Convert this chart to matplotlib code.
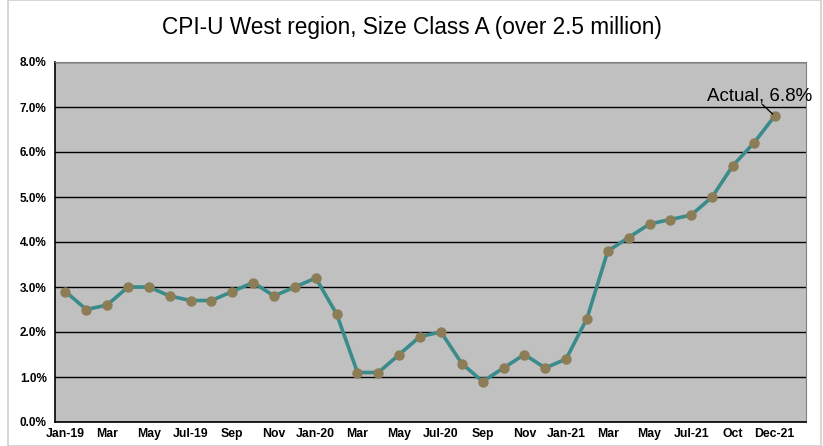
import numpy as np
import matplotlib.pyplot as plt
from matplotlib.patches import Rectangle

plt.rcParams['font.family'] = ['Liberation Sans', 'DejaVu Sans']

# monthly CPI-U change, Jan-19 .. Nov-21 (last category slot is empty)
values = [2.9, 2.5, 2.6, 3.0, 3.0, 2.8, 2.7, 2.7, 2.9, 3.1, 2.8, 3.0,
          3.2, 2.4, 1.1, 1.1, 1.5, 1.9, 2.0, 1.3, 0.9, 1.2, 1.5, 1.2,
          1.4, 2.3, 3.8, 4.1, 4.4, 4.5, 4.6, 5.0, 5.7, 6.2, 6.8]
tick_labels = ['Jan-19', 'Mar', 'May', 'Jul-19', 'Sep', 'Nov',
               'Jan-20', 'Mar', 'May', 'Jul-20', 'Sep', 'Nov',
               'Jan-21', 'Mar', 'May', 'Jul-21', 'Oct', 'Dec-21']
n_slots = 36
y_ticks = [0, 1, 2, 3, 4, 5, 6, 7, 8]

fig = plt.figure(figsize=(8.23, 4.46), dpi=100)
ax = fig.add_axes([55/823, 24/446, 751/823, 360/446])
ax.set_facecolor('#C0C0C0')

# chart border
fig.patches.append(Rectangle((8/823, 0), 1 - 10/823, 1, transform=fig.transFigure,
                             fill=False, edgecolor='#D0D0D0', lw=1.2))

x = np.arange(len(values))
ax.plot(x, values, color='#3A8B8B', lw=2.6, zorder=3,
        marker='o', ms=6.5, mfc='#8C7D57', mec='#8C7D57')

ax.set_xlim(-0.5, n_slots - 0.5)
ax.set_ylim(0, 8)
ax.set_yticks(y_ticks)
ax.set_yticklabels([f'{v:.1f}%' for v in y_ticks], fontsize=8.5, fontweight='bold')
ax.set_xticks(np.arange(0, 2 * len(tick_labels), 2))
ax.set_xticklabels(tick_labels, fontsize=8.8, fontweight='bold')
ax.tick_params(length=0, pad=4)
ax.tick_params(axis='y', pad=6)
ax.yaxis.grid(True, color='black', lw=1)
ax.set_axisbelow(True)

for s in ['top', 'right']:
    ax.spines[s].set_color('#808080')
for s in ['left', 'bottom']:
    ax.spines[s].set_color('black')
    ax.spines[s].set_linewidth(1.2)

ax.annotate('Actual, 6.8%', xy=(x[-1], values[-1]), xytext=(x[-1] - 0.7, 7.06),
            fontsize=13.5, ha='center', va='bottom', annotation_clip=False,
            arrowprops=dict(arrowstyle='-', color='black', lw=0.9, patchA=None,
                            relpos=(0.52, 0.0), shrinkA=0, shrinkB=2))

fig.suptitle('CPI-U West region, Size Class A (over 2.5 million)', y=0.965, fontsize=16.3)

fig.savefig('out.png', dpi=100)
